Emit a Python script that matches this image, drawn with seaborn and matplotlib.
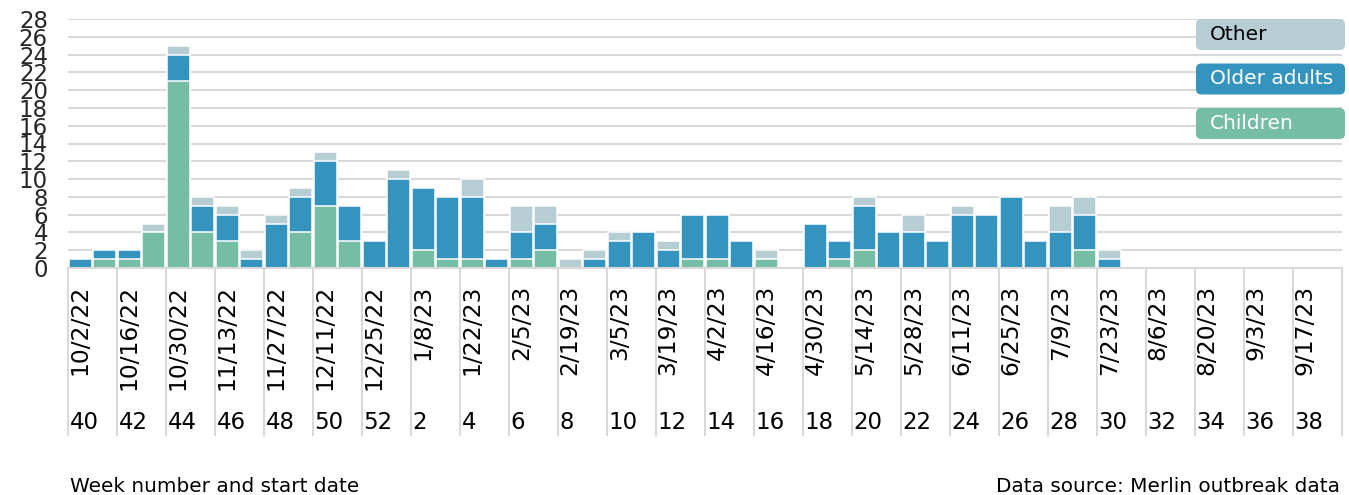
import numpy as np
import pandas as pd
import matplotlib
matplotlib.use("Agg")
import matplotlib.pyplot as plt
import matplotlib.transforms as mtransforms
from matplotlib.patches import FancyBboxPatch
import seaborn as sns

# ---------------- data ----------------
weeks = list(range(40, 53)) + list(range(1, 40))
children = [0, 1, 1, 4, 21, 4, 3, 0, 0, 4, 7, 3, 0,
            0, 2, 1, 1, 0, 1, 2, 0, 0, 0, 0, 0, 1, 1, 0, 1, 0, 0, 1, 2, 0,
            0, 0, 0, 0, 0, 0, 0, 2, 0, 0, 0, 0, 0, 0, 0, 0, 0, 0]
older_adults = [1, 1, 1, 0, 3, 3, 3, 1, 5, 4, 5, 4, 3,
                10, 7, 7, 7, 1, 3, 3, 0, 1, 3, 4, 2, 5, 5, 3, 0, 0, 5, 2, 5, 4,
                4, 3, 6, 6, 8, 3, 4, 4, 1, 0, 0, 0, 0, 0, 0, 0, 0, 0]
other = [0, 0, 0, 1, 1, 1, 1, 1, 1, 1, 1, 0, 0,
         1, 0, 0, 2, 0, 3, 2, 1, 1, 1, 0, 1, 0, 0, 0, 1, 0, 0, 0, 1, 0,
         2, 0, 1, 0, 0, 0, 3, 2, 1, 0, 0, 0, 0, 0, 0, 0, 0, 0]
date_labels = ["10/2/22", "10/16/22", "10/30/22", "11/13/22", "11/27/22", "12/11/22",
               "12/25/22", "1/8/23", "1/22/23", "2/5/23", "2/19/23", "3/5/23", "3/19/23",
               "4/2/23", "4/16/23", "4/30/23", "5/14/23", "5/28/23", "6/11/23", "6/25/23",
               "7/9/23", "7/23/23", "8/6/23", "8/20/23", "9/3/23", "9/17/23"]
week_labels = weeks[::2]
series_names = ["Other", "Older adults", "Children"]

# ---------------- style ----------------
C_CHILD = "#76BDA5"
C_OLDER = "#3594BD"
C_OTHER = "#B5CDD3"
C_GRID = "#D9D9D9"

sns.set_style("white")
plt.rcParams["font.family"] = ["DejaVu Sans"]

df = pd.DataFrame({
    "week": [str(w) for w in weeks],
    "children": children,
    "older": older_adults,
    "other": other,
})
df["lvl_blue"] = df["children"] + df["older"]
df["lvl_total"] = df["lvl_blue"] + df["other"]
order = [str(w) for w in weeks]

fig = plt.figure(figsize=(13.49, 4.95), dpi=100)
W, H = 1349, 495
ax = fig.add_axes([68 / W, 1 - 268 / H, (1342 - 68) / W, (268 - 19) / H])

common = dict(order=order, width=0.93, edgecolor="white", linewidth=1.1,
              saturation=1, errorbar=None, ax=ax)
sns.barplot(data=df, x="week", y="lvl_total", color=C_OTHER, **common)
sns.barplot(data=df, x="week", y="lvl_blue", color=C_OLDER, **common)
sns.barplot(data=df, x="week", y="children", color=C_CHILD, **common)
for p in ax.patches:
    if p.get_height() <= 0:
        p.set_visible(False)

ax.set_xlim(-0.5, len(weeks) - 0.5)
ax.set_ylim(0, 28)
ax.set_yticks(range(0, 29, 2))
ax.yaxis.grid(True, color=C_GRID, linewidth=1.5)
ax.set_axisbelow(True)
ax.tick_params(axis="y", length=0, pad=14.4, labelsize=16.5)
ax.set_xticks([])
ax.set_xlabel("")
ax.set_ylabel("")
for s in ["top", "right", "left"]:
    ax.spines[s].set_visible(False)
ax.spines["bottom"].set_color(C_GRID)
ax.spines["bottom"].set_linewidth(1.5)

# ---- two-level category axis ----
xt = ax.get_xaxis_transform()
for k in range(len(weeks) // 2 + 1):
    xs = -0.5 + 2 * k
    ax.plot([xs, xs], [0, -167 / 249], transform=xt, color=C_GRID,
            linewidth=1.5, clip_on=False)
date_tr = mtransforms.offset_copy(xt, fig=fig, y=-17, units="dots")
for i, lab in enumerate(date_labels):
    ax.text(2 * i, 0, lab, transform=date_tr, rotation=90, ha="center", va="top",
            fontsize=16.8, color="black")
wk_tr = mtransforms.offset_copy(xt, fig=fig, x=1.5, y=-161, units="dots")
for i, lab in enumerate(week_labels):
    ax.text(2 * i - 0.5, 0, str(lab), transform=wk_tr, ha="left", va="baseline",
            fontsize=16.5, color="black")

# ---- bottom notes ----
fig.text(70 / W, 1 - 492.5 / H, "Week number and start date", ha="left",
         va="baseline", fontsize=14.4, color="black")
fig.text(1340 / W, 1 - 492.5 / H, "Data source: Merlin outbreak data", ha="right",
         va="baseline", fontsize=14.4, color="black")

# ---- legend boxes ----
leg_colors = [C_OTHER, C_OLDER, C_CHILD]
leg_text_colors = ["black", "white", "white"]
leg_tops = [19, 63.5, 108]
for name, col, tcol, top in zip(series_names, leg_colors, leg_text_colors, leg_tops):
    x0, w, h = 1196, 149, 31
    y0 = H - top - h
    box = FancyBboxPatch((x0 / W, y0 / H), w / W, h / H,
                         boxstyle="round,pad=0,rounding_size=0.004",
                         transform=fig.transFigure, facecolor=col,
                         edgecolor="none", mutation_aspect=W / H)
    fig.patches.append(box)
    fig.text(1210 / W, (y0 + h / 2) / H, name, ha="left", va="center",
             fontsize=14.5, color=tcol)

fig.savefig("out.png", dpi=100)
